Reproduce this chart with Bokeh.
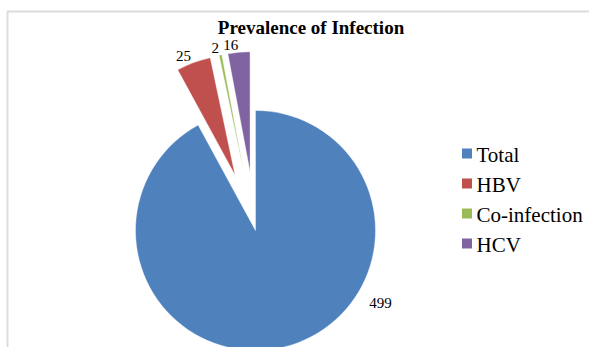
import math
from bokeh.plotting import figure
from bokeh.models import Range1d, Label, BoxAnnotation, ColumnDataSource
from bokeh.core.properties import value
from bokeh.embed import file_html
from bokeh.resources import INLINE

# ---- data ----
categories = ["Total", "HBV", "Co-infection", "HCV"]
counts = [499, 25, 2, 16]
colors = ["#4F81BD", "#C0504D", "#9BBB59", "#8064A2"]
title_text = "Prevalence of Infection"

# ---- style / layout ----
W, H = 589, 347
CX, CY = 255, H - 230       # pie centre (data units == pixels)
R = 120                      # pie radius
EXPLODE = 59                 # explode distance of pulled-out slices
EXPLODED = {"HBV", "Co-infection", "HCV"}
LABEL_DIST = 127             # label distance from a slice's own centre
LABEL_OVERRIDE = {"Total": (122.6, 135)}   # (clockwise angle from top, distance)
SERIF = "Liberation Serif"

p = figure(width=W, height=H, x_range=Range1d(0, W), y_range=Range1d(0, H),
           output_backend="svg", toolbar_location=None, min_border=0,
           x_axis_type=None, y_axis_type=None)
p.grid.visible = False
p.outline_line_color = None
p.background_fill_color = "white"
p.border_fill_color = "white"

# chart-area frame (extends past right/bottom edges)
p.add_layout(BoxAnnotation(left=7, right=W + 20, bottom=-20, top=H - 11,
                           fill_alpha=0, line_color="#8c8c8c", line_width=2))

total = sum(counts)
xs, ys, starts, ends, mids = [], [], [], [], []
theta = 0.0
for cat, c in zip(categories, counts):
    sweep = c / total * 360.0
    t1, t2 = theta, theta + sweep
    mid = theta + sweep / 2
    off = EXPLODE if cat in EXPLODED else 0
    dx, dy = math.sin(math.radians(mid)), math.cos(math.radians(mid))
    xs.append(CX + off * dx)
    ys.append(CY + off * dy)
    starts.append(math.radians(90 - t2))
    ends.append(math.radians(90 - t1))
    mids.append(mid)
    theta = t2

src = ColumnDataSource(dict(x=xs, y=ys, start=starts, end=ends, color=colors,
                            cat=categories, count=counts))
p.wedge(x="x", y="y", radius=R, start_angle="start", end_angle="end",
        fill_color="color", line_color="white", line_width=0.4, source=src)

# data labels
for cat, c, x0, y0, mid in zip(categories, counts, xs, ys, mids):
    ang, dist = mid, LABEL_DIST
    bx, by = x0, y0
    if cat in LABEL_OVERRIDE:
        ang, dist = LABEL_OVERRIDE[cat]
        bx, by = CX, CY
    dx, dy = math.sin(math.radians(ang)), math.cos(math.radians(ang))
    lx, ly = bx + dist * dx, by + dist * dy
    p.add_layout(Label(x=lx, y=ly, text=str(c), text_font=SERIF,
                       text_font_size="15px", text_color="#000000",
                       text_align="left" if dx > 0 else "right",
                       text_baseline="middle"))

# title
p.add_layout(Label(x=310.5, y=H - 26.5, text=title_text, text_font=SERIF,
                   text_font_size="19px", text_font_style="bold",
                   text_color="#000000", text_align="center",
                   text_baseline="middle"))

# legend
leg_sq_y = [H - (153 + 30 * i) for i in range(len(categories))]
p.scatter(x=[466.5] * len(categories), y=leg_sq_y, marker="square", size=10,
          fill_color=colors, line_color=None)
p.text(x=[476] * len(categories), y=[v - 1.5 for v in leg_sq_y], text=categories,
       text_font=value(SERIF), text_font_size="21px", text_color="#000000",
       text_align="left", text_baseline="middle")

open("out.html", "w").write(file_html(p, INLINE))
